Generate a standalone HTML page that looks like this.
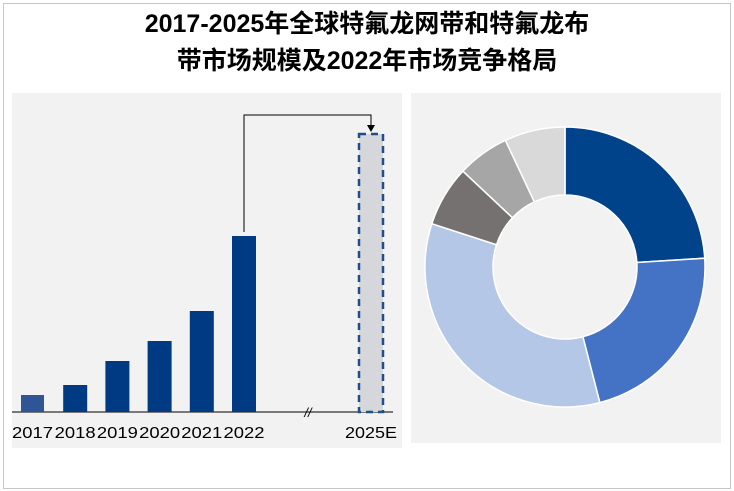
<!DOCTYPE html>
<html><head><meta charset="utf-8"><style>
body{margin:0;width:734px;height:491px;background:#fff;overflow:hidden;font-family:"Liberation Sans","Noto Sans CJK SC",sans-serif}
.frame{position:absolute;left:3px;top:3px;width:726px;height:484px;border:1px solid #c8c8c8}
.title{position:absolute;left:0;top:6px;width:734px;text-align:center;font-weight:bold;font-size:25px;line-height:37px;color:#000;font-family:"Liberation Sans","Noto Sans CJK SC",sans-serif}
</style></head><body>
<div class="frame"></div>
<div class="title">2017-2025年全球特氟龙网带和特氟龙布<br>带市场规模及2022年市场竞争格局</div>
<svg width="734" height="491" style="position:absolute;left:0;top:0">
<rect x="12" y="93" width="390" height="355" fill="#f2f2f2"/>
<rect x="411" y="93" width="310" height="350" fill="#f2f2f2"/>
<g id="bars"></g>
<g id="donut"></g>
</svg>
<script>
const years=["2017","2018","2019","2020","2021","2022","2025E"];
const values=[17,27,51,71,101,176,278];
const shares=[24,22,34,7,6,7];
const sliceColors=["#00438a","#4472c4","#b4c7e7","#767171","#a6a6a6","#d9d9d9"];
const NS="http://www.w3.org/2000/svg";
function mk(t,a,p){const e=document.createElementNS(NS,t);for(const k in a)e.setAttribute(k,a[k]);p.appendChild(e);return e;}
const bg=document.getElementById('bars');
const base=412;
const y=v=>base-v;
const xPos=i=>i<6?21+i*42.2:359;
mk('line',{x1:12,y1:base,x2:393,y2:base,stroke:'#000','stroke-width':1},bg);
mk('text',{x:308,y:base+5,'font-size':13,'text-anchor':'middle','font-style':'italic'},bg).textContent='//';
years.forEach((yr,i)=>{
  const x=xPos(i),w=i==0?23:24,h=values[i];
  let r;
  if(i<6){r=mk('rect',{x:x,y:y(h),width:w,height:h,fill:i==0?'#2f5597':'#003a82'},bg);}
  else{r=mk('rect',{x:x,y:y(h),width:w,height:h,fill:'#d6d7da',stroke:'#1f4e8c','stroke-width':2.5,'stroke-dasharray':'7,5'},bg);}
  
  
  const tw=i<6?41:52;
  const t=mk('text',{x:x+w/2-tw/2,y:438,'font-size':16,fill:'#000',textLength:tw,lengthAdjust:'spacingAndGlyphs'},bg);
  t.textContent=yr;
  
  
});
const ax=xPos(5)+12,bx=xPos(6)+12;
const arr=mk('path',{d:`M${ax} ${y(values[5])-4} V115 H${bx} V${y(values[6])-6}`,fill:'none',stroke:'#000','stroke-width':1},bg);


mk('path',{d:`M${bx-4} ${y(values[6])-9} L${bx+4} ${y(values[6])-9} L${bx} ${y(values[6])-2} Z`,fill:'#000'},bg);
const dg=document.getElementById('donut');
const cx=565,cy=267,R=140,r0=72;
const tot=shares.reduce((a,b)=>a+b,0);
let a0=0;
shares.forEach((s,i)=>{
  const a1=a0+s/tot*2*Math.PI;
  const p=(a,rr)=>[cx+rr*Math.sin(a),cy-rr*Math.cos(a)];
  const [x1,y1]=p(a0,R),[x2,y2]=p(a1,R),[x3,y3]=p(a1,r0),[x4,y4]=p(a0,r0);
  const lg=(a1-a0)>Math.PI?1:0;
  const e=mk('path',{d:`M${x1} ${y1} A${R} ${R} 0 ${lg} 1 ${x2} ${y2} L${x3} ${y3} A${r0} ${r0} 0 ${lg} 0 ${x4} ${y4} Z`,fill:sliceColors[i],stroke:'#fff','stroke-width':1.5},dg);
  
  
  a0=a1;
});
</script>
</body></html>
